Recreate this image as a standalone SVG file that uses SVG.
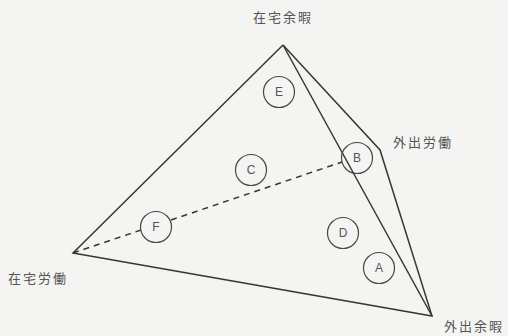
<svg xmlns="http://www.w3.org/2000/svg" width="508" height="336" viewBox="0 0 508 336">
<style>
.ln{fill:none;stroke:#3a3636;stroke-width:1.5;stroke-linejoin:miter}
.dash{fill:none;stroke:#3a3636;stroke-width:1.5;stroke-dasharray:6 5}
.c{fill:none;stroke:#4a4646;stroke-width:1.2}
.lt{font-family:"Liberation Sans",Arial,sans-serif;font-size:12px;fill:#555;text-anchor:middle}
.lb{font-family:"Noto Sans CJK JP","Noto Sans CJK SC",sans-serif;font-size:13px;fill:#555;letter-spacing:2px}
</style>
<rect width="508" height="336" fill="#f4f4f2"/>
<g id="connectors">
<polyline class="ln" points="283,45 73,253 432,316 380,150 283,45"/>
<line class="ln" x1="283" y1="45" x2="432" y2="316"/>
<line class="dash" x1="73" y1="253" x2="141" y2="230"/>
<line class="dash" x1="171" y1="220" x2="342" y2="162"/>
</g>
<g id="E"><circle class="c" cx="279" cy="92" r="15.5"/><text class="lt" x="279" y="96">E</text></g>
<g id="C"><circle class="c" cx="251" cy="170" r="15.5"/><text class="lt" x="251" y="174">C</text></g>
<g id="B"><circle class="c" cx="357" cy="158" r="15.5"/><text class="lt" x="357" y="162">B</text></g>
<g id="F"><circle class="c" cx="156" cy="227" r="15.5"/><text class="lt" x="156" y="231">F</text></g>
<g id="D"><circle class="c" cx="343" cy="233" r="15.5"/><text class="lt" x="343" y="237">D</text></g>
<g id="A"><circle class="c" cx="379" cy="268" r="15.5"/><text class="lt" x="379" y="272">A</text></g>
<g id="top"><text class="lb" x="253" y="22">在宅余暇</text></g>
<g id="right"><text class="lb" x="393" y="147">外出労働</text></g>
<g id="left"><text class="lb" x="8" y="283">在宅労働</text></g>
<g id="bottom"><text class="lb" x="444" y="331">外出余暇</text></g>
</svg>
